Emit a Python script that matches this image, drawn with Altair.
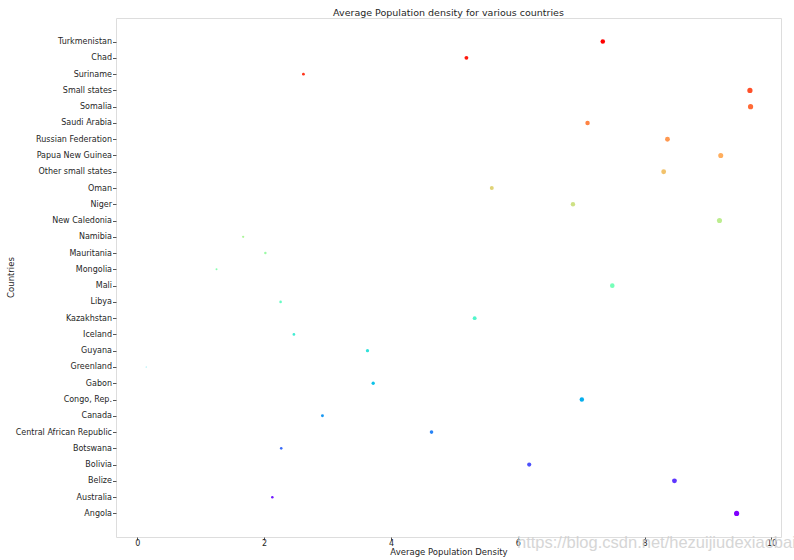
import json
import math
import altair as alt
import pandas as pd

# Countries from bottom (Angola) to top (Turkmenistan)
countries = [
    "Angola", "Australia", "Belize", "Bolivia", "Botswana",
    "Central African Republic", "Canada", "Congo, Rep.", "Gabon", "Greenland",
    "Guyana", "Iceland", "Kazakhstan", "Libya", "Mali",
    "Mongolia", "Mauritania", "Namibia", "New Caledonia", "Niger",
    "Oman", "Other small states", "Papua New Guinea", "Russian Federation", "Saudi Arabia",
    "Somalia", "Small states", "Suriname", "Chad", "Turkmenistan",
]
density = [
    9.45, 2.13, 8.47, 6.18, 2.27,
    4.64, 2.92, 7.01, 3.72, 0.14,
    3.63, 2.47, 5.32, 2.26, 7.49,
    1.25, 2.02, 1.67, 9.18, 6.87,
    5.59, 8.30, 9.20, 8.36, 7.10,
    9.67, 9.66, 2.62, 5.19, 7.34,
]
x_ticks = [0, 2, 4, 6, 8, 10]


def mpl_rainbow(v):
    idx = min(int(v * 256), 255)
    t = idx / 255.0
    r = min(1.0, abs(2 * t - 0.5))
    g = max(0.0, math.sin(math.pi * t))
    b = max(0.0, math.cos(math.pi * t / 2))
    return "#{:02x}{:02x}{:02x}".format(round(r * 255), round(g * 255), round(b * 255))


n = len(countries)
palette = [mpl_rainbow(i / (n - 1)) for i in range(n)]

df = pd.DataFrame({"country": countries, "density": density, "pos": list(range(n))})

FONT = "DejaVu Sans"
label_expr = json.dumps(countries) + "[datum.value]"
margin = 0.05 * (n - 1)

points = alt.Chart(df).mark_circle(opacity=1).encode(
    x=alt.X(
        "density:Q",
        scale=alt.Scale(domain=[-0.335, 10.15], nice=False, zero=False),
        axis=alt.Axis(
            values=x_ticks, title="Average Population Density", grid=False,
            domain=False, tickSize=3, tickColor="#555555", labelPadding=-1,
            labelFontSize=8, labelColor="#262626", labelFont=FONT,
            titleFont=FONT, titleFontSize=8.5, titleFontWeight="normal",
            titleColor="#262626", titleBaseline="top", titleY=10,
        ),
    ),
    y=alt.Y(
        "pos:Q",
        scale=alt.Scale(domain=[-margin, n - 1 + margin], nice=False, zero=False),
        axis=alt.Axis(
            values=list(range(n)), labelExpr=label_expr,
            title="Countries", grid=False, domain=False, tickSize=3.5,
            tickColor="#555555", labelPadding=1, labelFontSize=8,
            labelColor="#262626", labelFont=FONT, titleFont=FONT,
            titleFontSize=8.5, titleFontWeight="normal", titleColor="#262626",
            titleX=-110, titleY=259, titleBaseline="top", titleAngle=270,
            titleAlign="center", labelOverlap=False,
        ),
    ),
    color=alt.Color(
        "country:N", scale=alt.Scale(domain=countries, range=palette), legend=None
    ),
    size=alt.Size(
        "density:Q", scale=alt.Scale(type="linear", domain=[0, 10], range=[0.5, 28]),
        legend=None,
    ),
)

watermark = alt.Chart(pd.DataFrame({"t": ["https://blog.csdn.net/hezuijiudexiaobai"]})).mark_text(
    font="Liberation Sans", fontSize=16.5, color="#cfcfcf", opacity=0.85,
    align="left", baseline="middle"
).encode(text="t:N", x=alt.value(401), y=alt.value(525))

chart = alt.layer(points, watermark).properties(
    width=665,
    height=519,
    title=alt.TitleParams(
        "Average Population density for various countries",
        font=FONT, fontSize=9.5, fontWeight="normal", color="#262626",
        anchor="middle", offset=1,
    ),
    autosize=alt.AutoSizeParams(type="none"),
    padding={"left": 116, "top": 18, "right": 13, "bottom": 23},
).configure_view(stroke="#a0a0a0", strokeWidth=1).configure(background="white")

chart.save("out.html", embed_options={"renderer": "svg", "actions": False})
